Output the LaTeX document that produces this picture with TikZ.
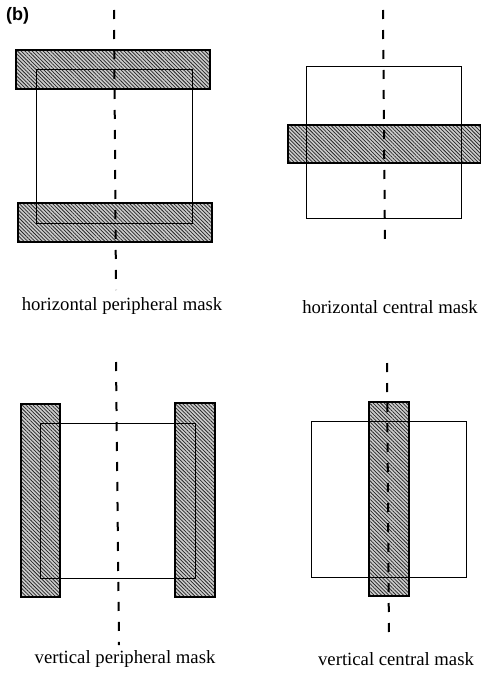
\documentclass[tikz,border=0pt]{standalone}
\usepackage{fontspec}
\setmainfont{Liberation Serif}
\newfontfamily\labelsans{Liberation Sans}
\usetikzlibrary{patterns.meta}
\tikzset{
  band/.style={draw=black,line width=1.3pt,fill=gray!40,
    postaction={pattern={Lines[angle=-45,distance=2.6pt,line width=0.75pt]},pattern color=black!85}},
  sq/.style={draw=black,line width=1pt},
  axis/.style={draw=black,line width=2pt,dash pattern=on 9pt off 11pt},
  captext/.style={font=\fontsize{18.7}{21}\selectfont,inner sep=0pt}
}
\begin{document}
\begin{tikzpicture}[x=1pt,y=-1pt]
\useasboundingbox (0,0) rectangle (481,677);
% panel 1: horizontal peripheral
\path[band] (16,50) rectangle (210,89);
\path[band] (18,203) rectangle (212,242);
\path[sq] (36,70) rectangle (192,223);
\draw[line width=1.3pt] (16,50) rectangle (210,89);
\draw[line width=1.3pt] (18,203) rectangle (212,242);
\coordinate (a1) at (114,10);
\coordinate (a2) at (116,290);
\draw[axis] (a1) -- (a2);
\node[captext] (l1) at (122,306) {horizontal peripheral mask};
% panel 2: horizontal central
\path[sq] (306,67) rectangle (461,218);
\path[band] (288,125) rectangle (481,163);
\draw[sq] (306,67) rectangle (461,218);
\draw[line width=1.3pt] (288,125) rectangle (481,163);
\coordinate (b1) at (383,10);
\coordinate (b2) at (385,248);
\draw[axis] (b1) -- (b2);
\node[captext] (l2) at (390,307) {horizontal central mask};
% panel 3: vertical peripheral
\path[band] (21,404) rectangle (60,597);
\path[band] (175,403) rectangle (215,597);
\path[sq] (40,423) rectangle (195,578);
\draw[line width=1.3pt] (21,404) rectangle (60,597);
\draw[line width=1.3pt] (175,403) rectangle (215,597);
\coordinate (c1) at (116,362);
\coordinate (c2) at (119,645);
\draw[axis] (c1) -- (c2);
\node[captext] (l3) at (125,659) {vertical peripheral mask};
% panel 4: vertical central
\path[sq] (311,421) rectangle (466,577);
\path[band] (369,402) rectangle (409,596);
\draw[sq] (311,421) rectangle (466,577);
\draw[line width=1.3pt] (369,402) rectangle (409,596);
\coordinate (d1) at (387,363);
\coordinate (d2) at (389,642);
\draw[axis] (d1) -- (d2);
\node[captext] (l4) at (396,659) {vertical central mask};
% panel tag
\node[font=\labelsans\bfseries\fontsize{18}{20}\selectfont,inner sep=0pt,anchor=west] (tag) at (6,16) {(b)};
\end{tikzpicture}
\end{document}
